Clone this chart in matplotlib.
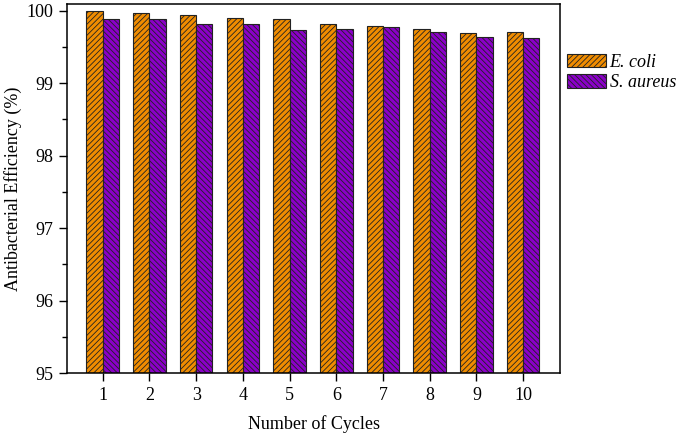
import matplotlib
matplotlib.use("Agg")
import matplotlib.pyplot as plt
import numpy as np
from matplotlib.ticker import MultipleLocator

plt.rcParams['font.family'] = ['Liberation Serif', 'DejaVu Serif']
plt.rcParams['hatch.linewidth'] = 0.6
plt.rcParams['hatch.color'] = '#222222'

cycles = [1, 2, 3, 4, 5, 6, 7, 8, 9, 10]
ecoli = [99.99, 99.96, 99.94, 99.90, 99.88, 99.81, 99.79, 99.75, 99.69, 99.71]
saureus = [99.88, 99.88, 99.81, 99.81, 99.73, 99.75, 99.77, 99.71, 99.64, 99.62]
series_names = ['E. coli', 'S. aureus']

fig = plt.figure(figsize=(6.8, 4.37), dpi=100)
ax = fig.add_axes([67/680, 1 - 373/437, (560-67)/680, (373-4)/437])

x = np.array(cycles)
w = 0.35
bottom = 95
ax.bar(x - w/2, np.array(ecoli) - bottom, w, bottom=bottom, color='#F08C00',
       edgecolor='#222222', linewidth=0.8, hatch='//////', label=series_names[0])
ax.bar(x + w/2, np.array(saureus) - bottom, w, bottom=bottom, color='#8A00C8',
       edgecolor='#222222', linewidth=0.8, hatch='\\\\\\\\\\\\', label=series_names[1])

ax.set_xlim(0.235, 10.79)
ax.set_ylim(95, 100.09)
ax.set_xticks(cycles)
ax.yaxis.set_major_locator(MultipleLocator(1))
ax.yaxis.set_minor_locator(MultipleLocator(0.5))
ax.tick_params(axis='both', which='major', direction='out', length=6, width=1, labelsize=13, pad=4)
ax.tick_params(axis='y', which='minor', direction='out', length=3.5, width=1)
ax.tick_params(top=False, right=False)
for s in ax.spines.values():
    s.set_linewidth(1.1)

ax.set_xlabel('Number of Cycles', fontsize=13, labelpad=8)
ax.set_ylabel('Antibacterial Efficiency (%)', fontsize=13, labelpad=3)

leg = ax.legend(loc='upper left', bbox_to_anchor=(1.0, 0.885), frameon=False,
                prop={'style': 'italic', 'size': 13}, handlelength=2.15, handleheight=0.75,
                handletextpad=0.2, labelspacing=0.2, borderaxespad=0.0)

fig.savefig('out.png', dpi=100)
